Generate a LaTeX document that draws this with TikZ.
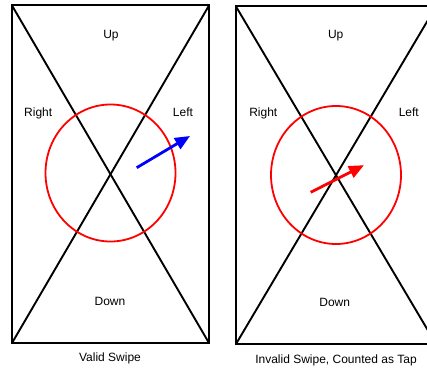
\documentclass[tikz,border=0pt]{standalone}
\usepackage{fontspec}
\setmainfont{Liberation Sans}
\usetikzlibrary{arrows.meta}
\begin{document}
\begin{tikzpicture}[x=1pt,y=-1pt,
  frame/.style={draw=black,line width=2pt},
  diag/.style={draw=black,line width=1.9pt},
  zone/.style={draw=red,line width=1.8pt},
  lbl/.style={anchor=base,inner sep=0pt,font=\fontsize{12}{14}\selectfont},
  swipe/.style={line width=2.8pt,-{Triangle[length=15pt,width=12.5pt]}}]
\useasboundingbox (0,0) rectangle (427,369);
\begin{scope}
\clip (0,0) rectangle (427,369);
% left panel
\coordinate (a1) at (12,5.5);
\coordinate (a2) at (209,5.5);
\coordinate (a3) at (209,343);
\coordinate (a4) at (12,343);
\draw[frame] (a1) rectangle (a3);
\draw[diag] (a1) -- (a3);
\draw[diag] (a2) -- (a4);
\coordinate (ca) at (110.5,173);
\draw[zone] (ca) ellipse [x radius=65, y radius=68.5];
\coordinate (s1) at (136.7,167.7);
\coordinate (e1) at (190,136);
\draw[swipe,blue] (s1) -- (e1);
\node[lbl] (up1) at (111,38.3) {Up};
\node[lbl] (r1) at (38.2,116) {Right};
\node[lbl] (l1) at (183,116) {Left};
\node[lbl] (d1) at (110,305.3) {Down};
\node[lbl] (c1) at (110,361) {Valid Swipe};
% right panel
\coordinate (b1) at (236,6.5);
\coordinate (b2) at (436,6.5);
\coordinate (b3) at (436,344);
\coordinate (b4) at (236,344);
\draw[frame] (b1) rectangle (b3);
\draw[diag] (b1) -- (b3);
\draw[diag] (b2) -- (b4);
\coordinate (cb) at (336,175);
\draw[zone] (cb) ellipse [x radius=65, y radius=69];
\coordinate (s2) at (310.7,192.3);
\coordinate (e2) at (364,165.2);
\draw[swipe,red] (s2) -- (e2);
\node[lbl] (up2) at (335.7,38.7) {Up};
\node[lbl] (r2) at (263.3,116) {Right};
\node[lbl] (l2) at (408.8,116) {Left};
\node[lbl] (d2) at (334.7,306) {Down};
\node[lbl] (c2) at (336,363.3) {Invalid Swipe, Counted as Tap};
\end{scope}
\end{tikzpicture}
\end{document}
